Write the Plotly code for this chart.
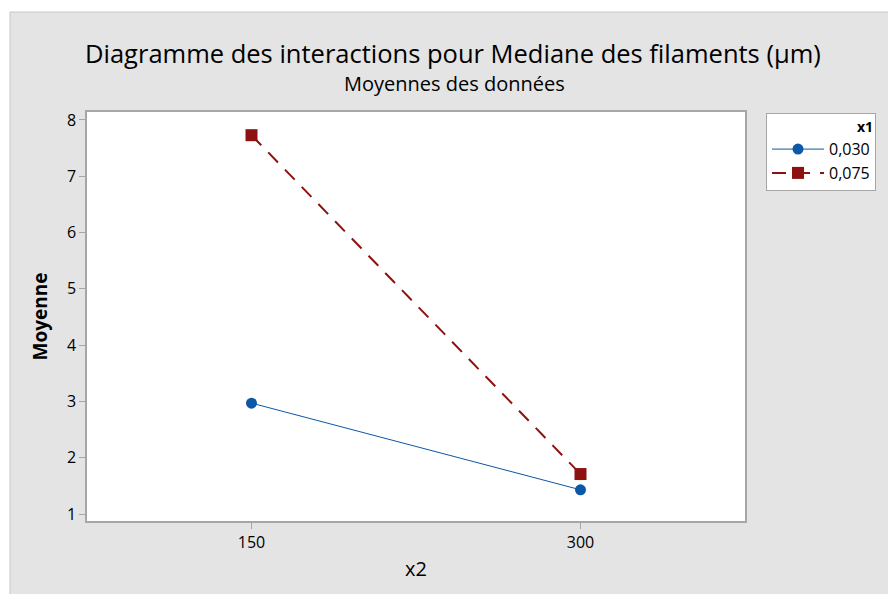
import plotly.graph_objects as go

# Interaction plot data: mean response at each level of x2, one line per x1 level
x2_levels = [150, 300]
x1_labels = ["0,030", "0,075"]
means_x1_030 = [2.97, 1.43]
means_x1_075 = [7.73, 1.71]

W, H = 888, 594
ML, MR, MT, MB = 87, 143, 112, 73
PW, PH = W - ML - MR, H - MT - MB

FONT = "Open Sans"
BLUE = "#0b57a8"
RED = "#8e1111"
GRAY_BG = "#e4e4e4"
AXIS_GRAY = "#a6a6a6"


def px_x(p):
    return (p - ML) / PW


def px_y(p):
    return (H - MB - p) / PH


fig = go.Figure()
fig.add_trace(go.Scatter(
    x=x2_levels, y=means_x1_030, name=x1_labels[0], mode="lines+markers",
    line=dict(color=BLUE, width=1),
    marker=dict(symbol="circle", size=11, color=BLUE),
))
fig.add_trace(go.Scatter(
    x=x2_levels, y=means_x1_075, name=x1_labels[1], mode="lines+markers",
    line=dict(color=RED, width=2, dash="14px,10px"),
    marker=dict(symbol="square", size=12, color=RED),
))

# White strips around the grey chart panel
shapes = [
    dict(type="rect", xref="paper", yref="paper", layer="above",
         x0=px_x(0), x1=px_x(W), y0=px_y(12), y1=px_y(0),
         fillcolor="white", line=dict(width=0)),
    dict(type="rect", xref="paper", yref="paper", layer="above",
         x0=px_x(0), x1=px_x(10), y0=px_y(H), y1=px_y(0),
         fillcolor="white", line=dict(width=0)),
    dict(type="line", xref="paper", yref="paper", layer="above",
         x0=px_x(10), x1=px_x(W), y0=px_y(12), y1=px_y(12),
         line=dict(color="#c8c8c8", width=1)),
    dict(type="line", xref="paper", yref="paper", layer="above",
         x0=px_x(10), x1=px_x(10), y0=px_y(H), y1=px_y(12),
         line=dict(color="#c8c8c8", width=1)),
]

annotations = [
    dict(text="Diagramme des interactions pour Mediane des filaments (µm)",
         xref="paper", yref="paper", x=px_x(453), y=px_y(53),
         xanchor="center", yanchor="middle", showarrow=False,
         font=dict(family=FONT, size=25.5, color="black")),
    dict(text="Moyennes des données",
         xref="paper", yref="paper", x=px_x(454), y=px_y(83),
         xanchor="center", yanchor="middle", showarrow=False,
         font=dict(family=FONT, size=20, color="black")),
]

fig.update_layout(
    width=W, height=H,
    margin=dict(l=ML, r=MR, t=MT, b=MB),
    paper_bgcolor=GRAY_BG,
    plot_bgcolor="white",
    font=dict(family=FONT, size=14, color="black"),
    shapes=shapes,
    annotations=annotations,
    showlegend=True,
    legend=dict(
        x=px_x(766), y=px_y(113), xanchor="left", yanchor="top",
        bgcolor="white", bordercolor=AXIS_GRAY, borderwidth=1,
        title=dict(text="<b>x1</b>", side="top right",
                   font=dict(family=FONT, size=14)),
        font=dict(family=FONT, size=16),
        itemwidth=52,
        tracegroupgap=0,
    ),
    xaxis=dict(
        range=[75, 375], tickvals=x2_levels, ticktext=[str(v) for v in x2_levels],
        showgrid=False, zeroline=False,
        showline=True, linecolor=AXIS_GRAY, linewidth=1.5, mirror=True,
        ticks="outside", ticklen=6, tickcolor=AXIS_GRAY,
        tickfont=dict(size=16),
        title=dict(text="x2", font=dict(size=20), standoff=10),
    ),
    yaxis=dict(
        range=[0.876, 8.142], tickvals=[1, 2, 3, 4, 5, 6, 7, 8],
        showgrid=False, zeroline=False,
        showline=True, linecolor=AXIS_GRAY, linewidth=1.5, mirror=True,
        ticks="outside", ticklen=6, tickcolor=AXIS_GRAY,
        tickfont=dict(size=16),
        title=dict(text="<b>Moyenne</b>", font=dict(size=19), standoff=14),
    ),
)

fig.write_html("out.html")
